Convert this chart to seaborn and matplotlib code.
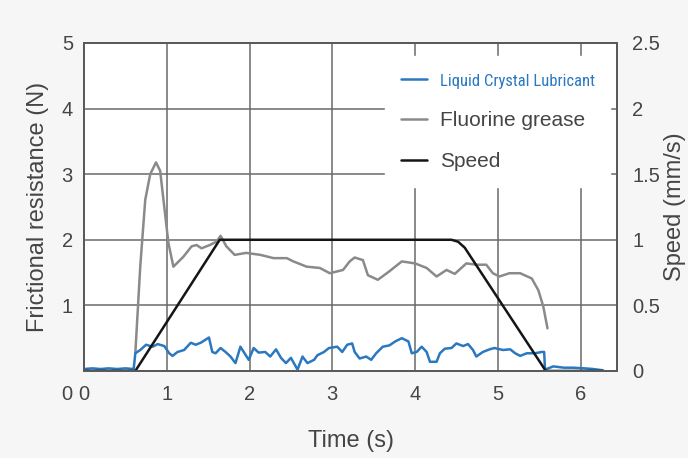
import matplotlib
matplotlib.use("Agg")
import matplotlib.pyplot as plt
import seaborn as sns
import pandas as pd

# Liquid crystal lubricant (N)
lcl_t = [0.00, 0.10, 0.20, 0.30, 0.40, 0.50, 0.60, 0.62, 0.68, 0.75, 0.83, 0.89, 0.97, 1.03, 1.07,
         1.13, 1.21, 1.29, 1.35, 1.41, 1.51, 1.55, 1.59, 1.65, 1.71, 1.77, 1.83, 1.89, 1.93, 1.99,
         2.05, 2.11, 2.19, 2.25, 2.32, 2.38, 2.44, 2.50, 2.58, 2.64, 2.70, 2.78, 2.82, 2.90, 2.96,
         3.06, 3.12, 3.18, 3.24, 3.27, 3.33, 3.41, 3.47, 3.53, 3.61, 3.69, 3.76, 3.84, 3.92, 3.96,
         4.02, 4.08, 4.14, 4.18, 4.26, 4.30, 4.36, 4.44, 4.50, 4.58, 4.64, 4.70, 4.74, 4.82, 4.90,
         4.96, 5.06, 5.15, 5.21, 5.27, 5.35, 5.45, 5.53, 5.56, 5.57, 5.67, 5.80, 5.91, 6.05, 6.15, 6.27]
lcl_f = [0.03, 0.04, 0.03, 0.04, 0.03, 0.04, 0.03, 0.27, 0.32, 0.40, 0.37, 0.41, 0.38, 0.27, 0.23,
         0.29, 0.32, 0.43, 0.40, 0.43, 0.51, 0.29, 0.27, 0.35, 0.29, 0.22, 0.12, 0.37, 0.29, 0.17,
         0.35, 0.28, 0.29, 0.22, 0.33, 0.20, 0.12, 0.20, 0.02, 0.22, 0.12, 0.17, 0.24, 0.29, 0.35,
         0.37, 0.29, 0.40, 0.42, 0.29, 0.19, 0.22, 0.17, 0.27, 0.37, 0.39, 0.45, 0.50, 0.45, 0.27,
         0.29, 0.37, 0.29, 0.14, 0.14, 0.27, 0.34, 0.35, 0.42, 0.38, 0.41, 0.32, 0.22, 0.29, 0.33,
         0.35, 0.32, 0.33, 0.27, 0.23, 0.27, 0.27, 0.29, 0.29, 0.02, 0.07, 0.05, 0.05, 0.04, 0.03, 0.01]

# Fluorine grease (N)
fg_t = [0.62, 0.68, 0.74, 0.80, 0.87, 0.92, 0.96, 1.02, 1.08, 1.20, 1.30, 1.36, 1.42, 1.52, 1.60,
        1.65, 1.72, 1.82, 1.96, 2.13, 2.29, 2.45, 2.53, 2.69, 2.85, 2.97, 3.13, 3.21, 3.27, 3.37,
        3.43, 3.55, 3.68, 3.84, 4.00, 4.14, 4.26, 4.38, 4.48, 4.62, 4.74, 4.86, 4.94, 5.02, 5.14,
        5.27, 5.41, 5.49, 5.55, 5.60]
fg_f = [0.27, 1.60, 2.61, 3.00, 3.18, 3.05, 2.61, 1.95, 1.59, 1.74, 1.90, 1.92, 1.87, 1.92, 1.97,
        2.06, 1.90, 1.77, 1.80, 1.77, 1.72, 1.72, 1.67, 1.59, 1.57, 1.49, 1.54, 1.67, 1.73, 1.69,
        1.46, 1.39, 1.51, 1.67, 1.64, 1.57, 1.44, 1.54, 1.48, 1.64, 1.62, 1.62, 1.49, 1.44, 1.49,
        1.49, 1.41, 1.23, 0.98, 0.65]

# Speed (mm/s)
spd_t = [0.00, 0.62, 1.64, 4.44, 4.52, 4.60, 5.58, 6.27]
spd_v = [0.00, 0.00, 1.00, 1.00, 0.985, 0.94, 0.00, 0.00]

x_ticks = [0, 1, 2, 3, 4, 5, 6]
left_ticks = [0, 1, 2, 3, 4, 5]
right_ticks = [0, 0.5, 1, 1.5, 2, 2.5]
right_labels = ["0", "0.5", "1", "1.5", "2", "2.5"]

BLUE = "#2a78c0"
GRAY = "#8a8a8a"
BLACK = "#151515"
TXT = "#454545"
EDGE = "#5a5a5a"

sns.set_theme(style="white")
plt.rcParams["font.family"] = ["Liberation Sans", "DejaVu Sans"]

fig = plt.figure(figsize=(6.88, 4.58), dpi=100, facecolor="#f6f6f6")
ax = fig.add_axes([0.1221, 0.19, 0.7747, 0.7162])
ax.set_facecolor("white")

lcl = pd.DataFrame({"t": lcl_t, "f": lcl_f})
fg = pd.DataFrame({"t": fg_t, "f": fg_f})
spd = pd.DataFrame({"t": spd_t, "v": spd_v})

sns.lineplot(data=fg, x="t", y="f", ax=ax, color=GRAY, lw=1.8, sort=False, label="Fluorine grease")
sns.lineplot(data=lcl, x="t", y="f", ax=ax, color=BLUE, lw=1.8, sort=False, label="Liquid Crystal Lubricant")

ax2 = ax.twinx()
sns.lineplot(data=spd, x="t", y="v", ax=ax2, color=BLACK, lw=1.8, sort=False, label="Speed")

ax.set_xlim(0, 6.44)
ax.set_ylim(0, 5)
ax2.set_ylim(0, 2.5)
ax.set_xticks(x_ticks)
ax.set_yticks(left_ticks)
ax.set_yticklabels([""] + [str(v) for v in left_ticks[1:]])
ax2.set_yticks(right_ticks)
ax2.set_yticklabels(right_labels)

ax.grid(True, color="#6a6a6a", lw=1.1)
ax2.grid(False)
for a in (ax, ax2):
    for s in a.spines.values():
        s.set_color(EDGE)
        s.set_linewidth(1.4)
ax.tick_params(axis="x", length=0, pad=10, labelsize=14.5, labelcolor=TXT)
ax.tick_params(axis="y", length=0, pad=8, labelsize=14.5, labelcolor=TXT)
ax2.tick_params(axis="y", length=0, pad=11, labelsize=14.5, labelcolor=TXT)
ax.text(-0.0225, -0.073, "0", transform=ax.transAxes, ha="right", va="center",
        fontsize=14.5, color=TXT)

ax.set_xlabel("Time (s)", fontsize=17, color=TXT)
ax.set_ylabel("Frictional resistance (N)", fontsize=17, color=TXT)
ax2.set_ylabel("Speed (mm/s)", fontsize=17, color=TXT)
ax.xaxis.set_label_coords(0.5, -0.18)
ax.yaxis.set_label_coords(-0.066, 0.5)
ax2.yaxis.set_label_coords(1.088, 0.5)

# combined legend
h1, l1 = ax.get_legend_handles_labels()
h2, l2 = ax2.get_legend_handles_labels()
ax.get_legend().remove()
ax2.get_legend().remove()
handles = [h1[1], h1[0], h2[0]]
labels = [l1[1], l1[0], l2[0]]
leg = ax2.legend(handles, labels, loc="upper left", bbox_to_anchor=(0.5596, 0.8777),
                 bbox_transform=fig.transFigure, borderaxespad=0,
                 frameon=True, fancybox=False, facecolor="white", edgecolor="white",
                 framealpha=1, fontsize=15, handlelength=1.25, handletextpad=0.62,
                 labelspacing=1.05, borderpad=0.75)
for txt in leg.get_texts():
    txt.set_color(TXT)
first = leg.get_texts()[0]
first.set_color(BLUE)
first.set_fontfamily(["Liberation Sans Narrow", "Roboto Condensed", "DejaVu Sans Condensed",
                      "Liberation Sans"])
first.set_fontstretch("condensed")
first.set_fontsize(12)

fig.savefig("out.png", dpi=100, facecolor=fig.get_facecolor())
